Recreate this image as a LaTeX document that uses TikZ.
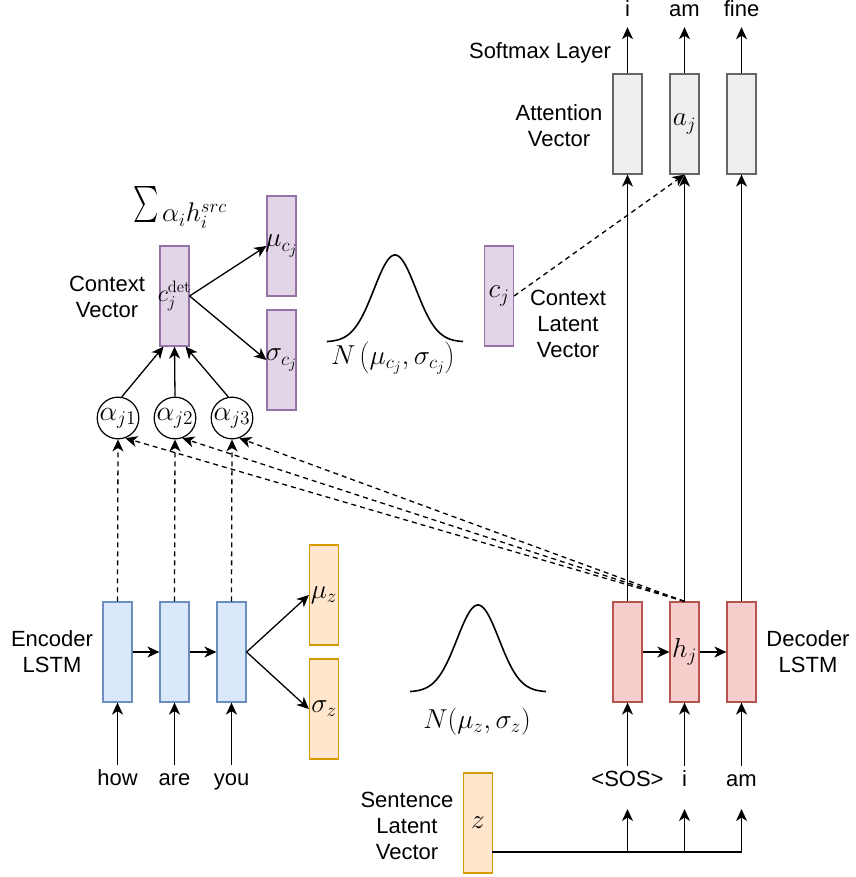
\documentclass[tikz,border=0pt]{standalone}
\usepackage[no-math]{fontspec}
\usepackage{graphicx}
\setmainfont{Liberation Sans}
\usetikzlibrary{arrows.meta}
\definecolor{encfill}{HTML}{DAE8FC}\definecolor{encdraw}{HTML}{6C8EBF}
\definecolor{orfill}{HTML}{FFE6CC}\definecolor{ordraw}{HTML}{D79B00}
\definecolor{pufill}{HTML}{E1D5E7}\definecolor{pudraw}{HTML}{9673A6}
\definecolor{refill}{HTML}{F8CECC}\definecolor{redraw}{HTML}{B85450}
\definecolor{grfill}{HTML}{EEEEEE}\definecolor{grdraw}{HTML}{666666}
\newcommand{\bigfont}{\fontsize{22}{26}\selectfont}
\newcommand{\mth}[1]{\scalebox{1.32}{$#1$}}
\begin{document}
\begin{tikzpicture}[x=1pt,y=-1pt,
  every node/.style={font=\bigfont},
  vec/.style={draw, line width=1.2pt, minimum width=29pt, minimum height=100pt, inner sep=0pt},
  vtext/.style={label={[inner sep=0pt]center:#1}},
  enc/.style={vec, fill=encfill, draw=encdraw},
  orv/.style={vec, fill=orfill, draw=ordraw},
  puv/.style={vec, fill=pufill, draw=pudraw},
  dec/.style={vec, fill=refill, draw=redraw},
  attv/.style={vec, fill=grfill, draw=grdraw},
  alph/.style={draw, circle, line width=1.2pt, minimum size=40pt, inner sep=0pt},
  lbl/.style={align=center, inner sep=0pt},
  word/.style={anchor=base, text height=14pt, text depth=4pt, inner xsep=0pt, inner ysep=6pt},
  arr/.style={-{Stealth[length=12pt,width=11pt,inset=3.5pt]}, line width=1.3pt},
  darr/.style={arr, dash pattern=on 5pt off 4pt},
  bell/.style={line width=1.6pt}]
\useasboundingbox (0,0) rectangle (855,877);

% encoder
\node[enc] (e1) at (117.5,652) {};
\node[enc] (e2) at (174.5,652) {};
\node[enc] (e3) at (231.5,652) {};
\node[orv, vtext={\mth{\mu_z}}] (muz) at (324,595) {};
\node[orv, vtext={\mth{\sigma_z}}] (sigz) at (324,709) {};
\node[lbl] (enclbl) at (52,652) {Encoder\\LSTM};
\node[word] (how) at (117.5,785) {how};
\node[word] (are) at (174.5,785) {are};
\node[word] (you) at (231.5,785) {you};

% attention circles
\node[alph] (a1) at (118,418) {\scalebox{1.35}{$\alpha_{j1}$}};
\node[alph] (a2) at (175,418) {\scalebox{1.35}{$\alpha_{j2}$}};
\node[alph] (a3) at (232,418) {\scalebox{1.35}{$\alpha_{j3}$}};

% context
\node[puv, vtext={\scalebox{1.15}{$c_j^{\mathrm{det}}$}}] (cdet) at (174.5,296) {};
\node[puv, vtext={\mth{\mu_{c_j}}}] (muc) at (281.5,246) {};
\node[puv, vtext={\mth{\sigma_{c_j}}}] (sigc) at (281.5,360) {};
\node[lbl] (ctxlbl) at (107,297) {Context\\Vector};
\node[inner sep=0pt, anchor=base] (sum) at (180,222) {\raisebox{-1pt}{\scalebox{2.4}[3.6]{$\sum$}}\,\scalebox{1.3}{$\alpha_i h_i^{src}$}};
\node[puv, vtext={\mth{c_j}}] (cj) at (499,296) {};
\node[lbl] (cjlbl) at (568,324) {Context\\Latent\\Vector};
\node[inner sep=0pt] (nc) at (393,358) {\mth{N\left(\mu_{c_j},\sigma_{c_j}\right)}};

% decoder
\node[dec] (d1) at (627.5,652) {};
\node[dec, vtext={\mth{h_j}}] (d2) at (684.5,652) {};
\node[dec] (d3) at (741.5,652) {};
\node[lbl] (declbl) at (808,652) {Decoder\\LSTM};
\node[word] (sos) at (627.5,786) {<SOS>};
\node[word] (wi) at (684.5,786) {i};
\node[word] (wam) at (741.5,786) {am};

% attention vectors
\node[attv] (t1) at (627.5,124) {};
\node[attv, vtext={\mth{a_j}}] (t2) at (684.5,124) {};
\node[attv] (t3) at (741.5,124) {};
\node[lbl] (attlbl) at (559,126) {Attention\\Vector};
\node[inner sep=0pt, anchor=base] (smx) at (540,59) {Softmax Layer};
\node[word] (oi) at (627.5,17) {i};
\node[word] (oam) at (684.5,17) {am};
\node[word] (ofine) at (741.5,17) {fine};

% sentence latent
\node[orv, vtext={\mth{z}}] (z) at (478,823) {};
\node[lbl] (zlbl) at (407,826) {Sentence\\Latent\\Vector};
\node[inner sep=0pt] (nz) at (477,722) {\mth{N(\mu_z,\sigma_z)}};

% gaussians
\draw[bell] plot[domain=-68:68, samples=90, smooth] ({395+\x},{342-87*exp(-(\x*\x)/(2*21*21))});
\draw[bell] plot[domain=-68:68, samples=90, smooth] ({478+\x},{692-87*exp(-(\x*\x)/(2*21*21))});

% encoder connectors
\draw[arr] (e1) -- (e2);
\draw[arr] (e2) -- (e3);
\draw[arr] (e3.east) -- (muz.west);
\draw[arr] (e3.east) -- (sigz.west);
\draw[arr] (how.north) -- (e1.south);
\draw[arr] (are.north) -- (e2.south);
\draw[arr] (you.north) -- (e3.south);

% encoder to alphas
\draw[darr] (e1.north) -- (a1.south);
\draw[darr] (e2.north) -- (a2.south);
\draw[darr] (e3.north) -- (a3.south);
\draw[darr] (d2.north) -- (a1.-70);
\draw[darr] (d2.north) -- (a2.-70);
\draw[darr] (d2.north) -- (a3.-70);

% alphas to context
\draw[arr] (a1.80) -- ([xshift=-11pt]cdet.south);
\draw[arr] (a2.north) -- (cdet.south);
\draw[arr] (a3.100) -- ([xshift=11pt]cdet.south);
\draw[arr] (cdet.east) -- (muc.west);
\draw[arr] (cdet.east) -- (sigc.west);

% context latent to attention
\draw[darr] (cj.east) -- (t2.south);

% decoder
\draw[arr] (d1) -- (d2);
\draw[arr] (d2) -- (d3);
\draw[arr] (sos.north) -- (d1.south);
\draw[arr] (wi.north) -- (d2.south);
\draw[arr] (wam.north) -- (d3.south);
\draw[arr] (d1.north) -- (t1.south);
\draw[arr] (d2.north) -- (t2.south);
\draw[arr] (d3.north) -- (t3.south);
\draw[arr] (t1.north) -- (oi.south);
\draw[arr] (t2.north) -- (oam.south);
\draw[arr] (t3.north) -- (ofine.south);

% z feed
\coordinate (zr) at (492,852);
\coordinate (j1) at (627.5,852);
\coordinate (j2) at (684.5,852);
\coordinate (j3) at (741.5,852);
\coordinate (k1) at (627.5,809);
\coordinate (k2) at (684.5,809);
\coordinate (k3) at (741.5,809);
\draw[line width=1.3pt] (zr) -- (j3);
\draw[arr] (j1) -- (k1);
\draw[arr] (j2) -- (k2);
\draw[arr] (j3) -- (k3);
\end{tikzpicture}
\end{document}
